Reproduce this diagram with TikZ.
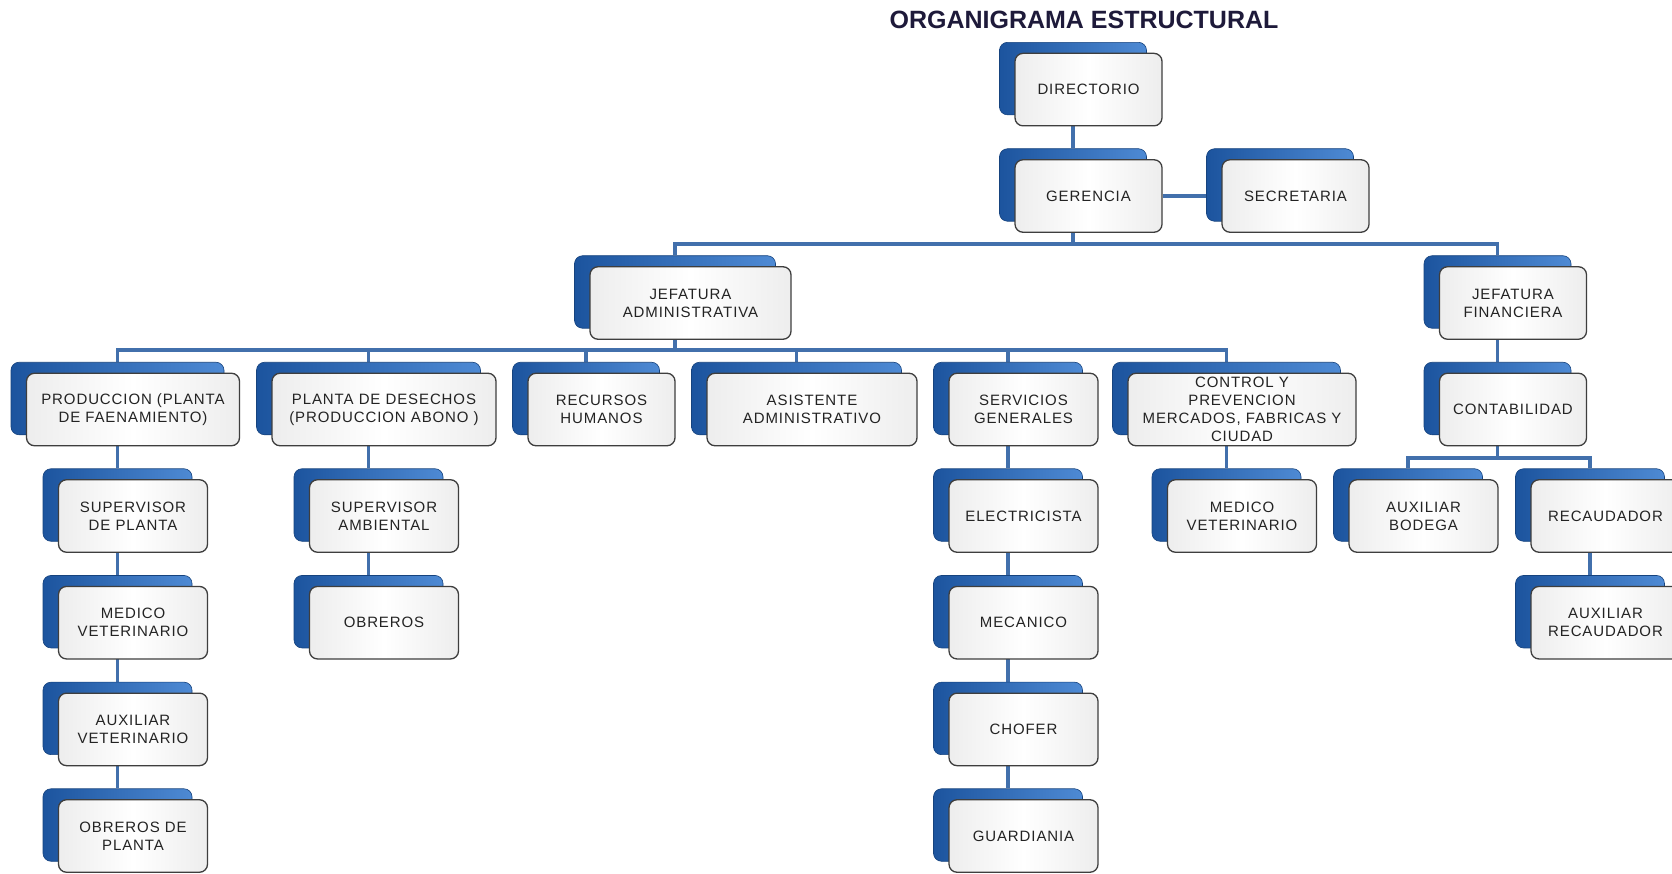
\documentclass[tikz,border=0pt]{standalone}
\usepackage{fontspec}
\setmainfont{Liberation Sans}
\newfontfamily\boxfont[LetterSpace=6]{Liberation Sans}
\newfontfamily\titlefont{Liberation Sans}
\usetikzlibrary{backgrounds}
\definecolor{blueD}{RGB}{28,84,158}
\definecolor{blueL}{RGB}{78,138,212}
\definecolor{linec}{RGB}{66,112,172}
\definecolor{frameC}{RGB}{62,62,62}
\definecolor{titleC}{RGB}{30,26,58}
\definecolor{textC}{RGB}{35,35,35}
\tikzset{
  backbox/.style={rounded corners=8pt, left color=blueD, right color=blueL, draw=blueD!80!black, line width=0.6pt, minimum height=72.5pt, inner sep=0pt},
  frontbox/.style={rounded corners=8pt, left color=gray!14, right color=gray!14, middle color=white, draw=frameC, line width=1.3pt, minimum height=72.5pt, inner sep=2pt, align=center, text=textC, font=\boxfont\fontsize{15}{18}\selectfont},
  conn/.style={draw=linec, line width=3.2pt}
}
\newcommand\orgbox[5]{%
  \node[backbox, minimum width=#4pt] (#1-b) at ({#2-15.5},{#3-11}) {};
  \node[frontbox, minimum width=#4pt] (#1) at (#2,#3) {#5};
}
\begin{document}
\begin{tikzpicture}[x=1pt,y=-1pt]
\useasboundingbox (0,0) rectangle (1672,874);
\begin{pgfonlayer}{background}
\fill[white] (0,0) rectangle (1672,874);
\end{pgfonlayer}
\clip (0,0) rectangle (1672,874);
\node[anchor=base, text=titleC, font=\titlefont\bfseries\fontsize{25}{28}\selectfont] (title) at (1084,29) {ORGANIGRAMA ESTRUCTURAL};
% row 1-3
\orgbox{dir}{1088.5}{89.6}{147}{DIRECTORIO}
\orgbox{ger}{1088.5}{196}{147}{GERENCIA}
\orgbox{sec}{1295.5}{196}{147}{SECRETARIA}
\orgbox{jadm}{690.5}{303}{201}{JEFATURA\\ADMINISTRATIVA}
\orgbox{jfin}{1513}{303}{147}{JEFATURA\\FINANCIERA}
% row 4
\orgbox{prod}{133}{409.5}{213}{PRODUCCION (PLANTA\\DE FAENAMIENTO)}
\orgbox{plan}{384}{409.5}{224}{PLANTA DE DESECHOS\\(PRODUCCION ABONO )}
\orgbox{rrhh}{601.5}{409.5}{147}{RECURSOS\\HUMANOS}
\orgbox{asis}{812}{409.5}{210}{ASISTENTE\\ADMINISTRATIVO}
\orgbox{serv}{1023.5}{409.5}{149}{SERVICIOS\\GENERALES}
\orgbox{ctrl}{1242}{409.5}{228}{\fontsize{15}{16.5}\selectfont CONTROL Y\\PREVENCION\\MERCADOS, FABRICAS Y\\CIUDAD}
\orgbox{cont}{1513}{409.5}{147}{CONTABILIDAD}
% row 5
\orgbox{supp}{133}{516}{149}{SUPERVISOR\\DE PLANTA}
\orgbox{supa}{384}{516}{149}{SUPERVISOR\\AMBIENTAL}
\orgbox{elec}{1023.5}{516}{149}{ELECTRICISTA}
\orgbox{medc}{1242}{516}{149}{MEDICO\\VETERINARIO}
\orgbox{auxb}{1423.5}{516}{149}{AUXILIAR\\BODEGA}
\orgbox{reca}{1605.5}{516}{149}{RECAUDADOR}
% row 6
\orgbox{medp}{133}{622.7}{149}{MEDICO\\VETERINARIO}
\orgbox{obr}{384}{622.7}{149}{OBREROS}
\orgbox{meca}{1023.5}{622.7}{149}{MECANICO}
\orgbox{auxr}{1605.5}{622.7}{149}{AUXILIAR\\RECAUDADOR}
% row 7
\orgbox{auxv}{133}{729.4}{149}{AUXILIAR\\VETERINARIO}
\orgbox{chof}{1023.5}{729.4}{149}{CHOFER}
% row 8
\orgbox{obrp}{133}{836}{149}{OBREROS DE\\PLANTA}
\orgbox{guar}{1023.5}{836}{149}{GUARDIANIA}
% buses
\coordinate (bus1) at (0,244);
\coordinate (bus2) at (0,350);
\coordinate (bus3) at (0,458);
\begin{pgfonlayer}{background}
\draw[conn] (dir-b.south) -- (ger-b.north);
\draw[conn] (ger.east) -- (ger.east -| sec-b.west);
\draw[conn] (ger-b.south) -- (ger-b.south |- bus1);
\draw[conn] (jadm-b.north) |- (jfin-b.north |- bus1) -- (jfin-b.north);
\draw[conn] (jadm-b.south) -- (jadm-b.south |- bus2);
\draw[conn] (prod-b.north) |- (ctrl-b.north |- bus2) -- (ctrl-b.north);
\draw[conn] (plan-b.north) -- (plan-b.north |- bus2);
\draw[conn] (rrhh-b.north) -- (rrhh-b.north |- bus2);
\draw[conn] (asis-b.north) -- (asis-b.north |- bus2);
\draw[conn] (serv-b.north) -- (serv-b.north |- bus2);
\draw[conn] (prod-b.south) -- (supp-b.north);
\draw[conn] (supp-b.south) -- (medp-b.north);
\draw[conn] (medp-b.south) -- (auxv-b.north);
\draw[conn] (auxv-b.south) -- (obrp-b.north);
\draw[conn] (plan-b.south) -- (supa-b.north);
\draw[conn] (supa-b.south) -- (obr-b.north);
\draw[conn] (serv-b.south) -- (elec-b.north);
\draw[conn] (elec-b.south) -- (meca-b.north);
\draw[conn] (meca-b.south) -- (chof-b.north);
\draw[conn] (chof-b.south) -- (guar-b.north);
\draw[conn] (ctrl-b.south) -- (medc-b.north);
\draw[conn] (jfin-b.south) -- (cont-b.north);
\draw[conn] (cont-b.south) -- (cont-b.south |- bus3);
\draw[conn] (auxb-b.north) |- (reca-b.north |- bus3) -- (reca-b.north);
\draw[conn] (reca-b.south) -- (auxr-b.north);
\end{pgfonlayer}
\end{tikzpicture}
\end{document}
